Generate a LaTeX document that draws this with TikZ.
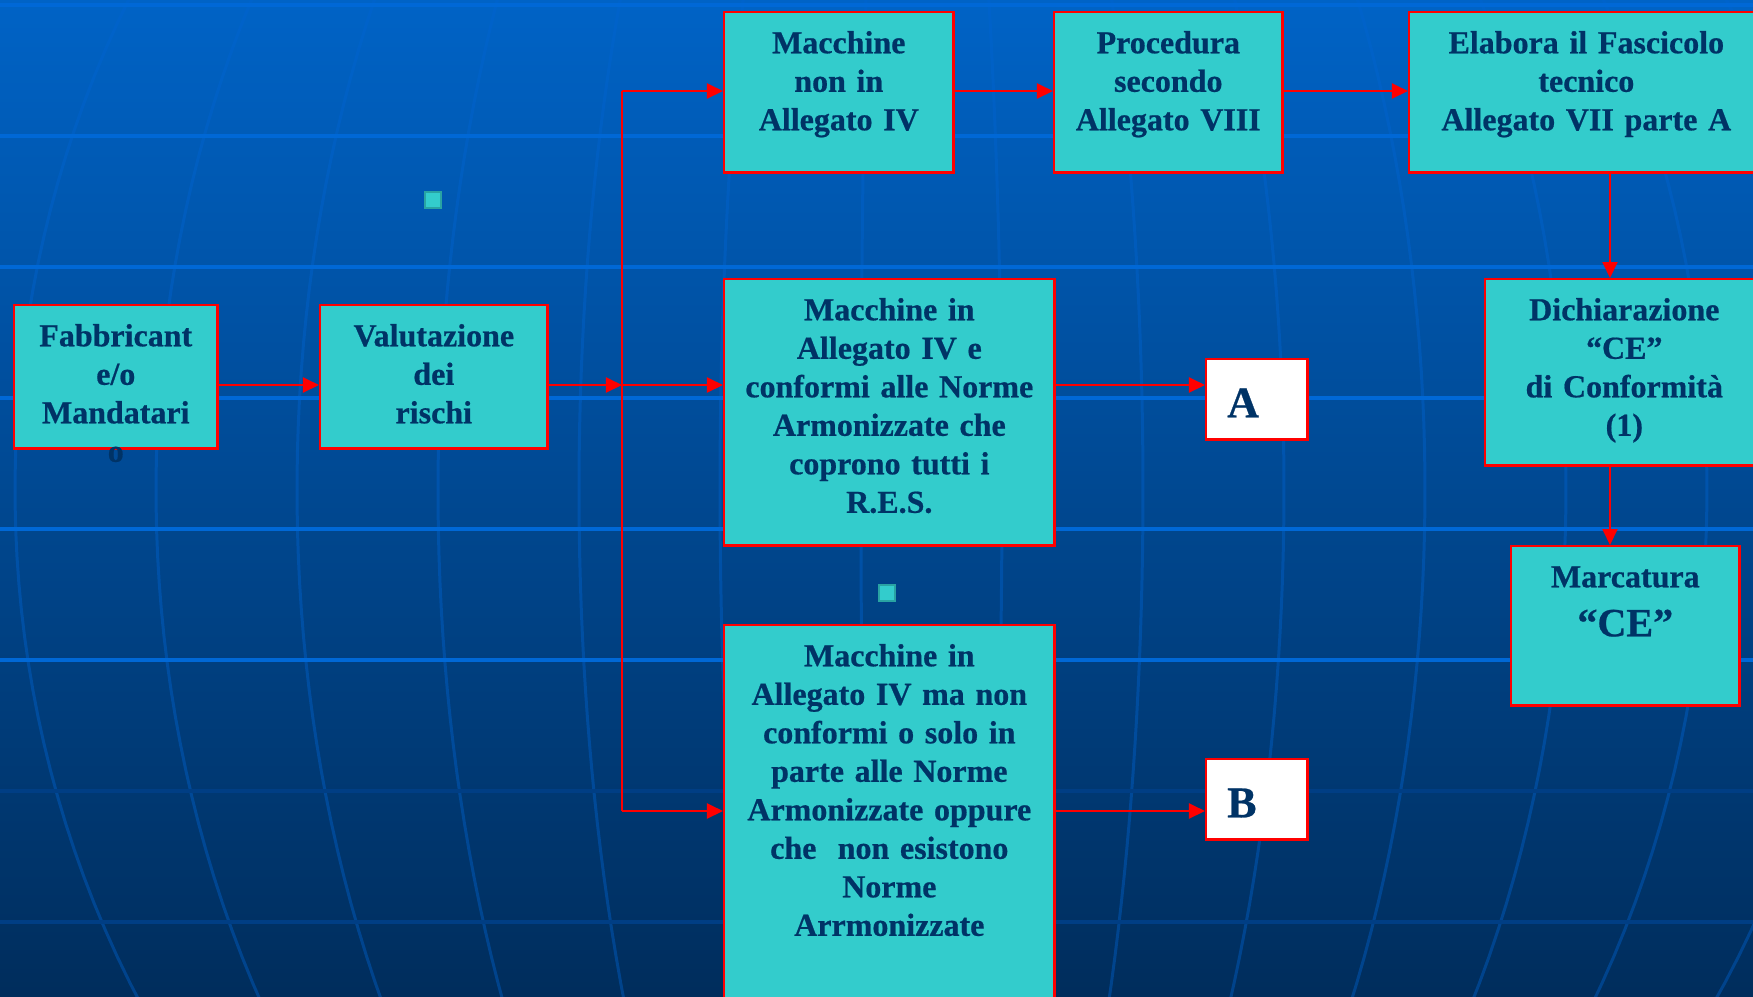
\documentclass[tikz,border=0pt]{standalone}
\usepackage{fontspec}
\setmainfont{Liberation Serif}[BoldFeatures={FakeBold=0.6}]
\usepackage{tikz}
\usetikzlibrary{arrows.meta}

\definecolor{bgtop}{RGB}{0,99,198}
\definecolor{bgbot}{RGB}{0,45,92}
\definecolor{gridlight}{RGB}{0,104,214}
\definecolor{griddark}{RGB}{0,62,132}
\definecolor{meridian}{RGB}{0,100,210}
\definecolor{boxfill}{RGB}{51,204,204}
\definecolor{boxtext}{RGB}{0,51,102}

\begin{document}
\begin{tikzpicture}[x=0.01cm, y=-0.01cm,
    box/.style={draw=red, line width=0.7pt, fill=boxfill, text=boxtext,
        font=\bfseries\fontsize{9.1}{10.95}\selectfont, align=center,
        inner xsep=0pt, inner ysep=0pt, anchor=north west, text height=0.41cm},
    letterbox/.style={draw=red, line width=0.7pt, fill=white, text=boxtext,
        font=\bfseries\fontsize{12.5}{14}\selectfont, align=left,
        inner xsep=0pt, inner ysep=0pt, anchor=north west,
        text width=1.01cm, text height=0.58cm, text depth=0.22cm},
    arr/.style={red, line width=0.55pt, -{Triangle[length=0.16cm, width=0.15cm]}}]
        \useasboundingbox (0,0) rectangle (1753,996);
        \clip (0,0) rectangle (1753,996);

        % 背景
        \shade[top color=bgtop, bottom color=bgbot] (0,0) rectangle (1753,996);
        \foreach \a in {-885,-744,...,948}
            \draw[meridian, opacity=0.4, line width=0.85pt]
                plot[domain=-520:520, samples=40] ({900+\a*sqrt(1-(\x/1000)^2)}, {490+\x});
        \foreach \y in {5,136,...,660}
            \draw[gridlight, line width=1pt] (0,\y) -- (1753,\y);
        \foreach \y in {791,922}
            \draw[griddark, line width=1pt] (0,\y) -- (1753,\y);
        \filldraw[fill=boxfill, draw=boxfill!80!black, line width=0.3pt] (425,192) rectangle (441,208);
        \filldraw[fill=boxfill, draw=boxfill!80!black, line width=0.3pt] (879,585) rectangle (895,601);

        % 方框
        \node[box, text width=2.03cm, text depth=1.02cm] (fab) at (13,304) {Fabbricant\\e/o\\Mandatari\\o};
        \node[box, text width=2.27cm, text depth=1.02cm] (val) at (319,304) {Valutazione\\dei\\rischi};
        \node[box, text width=2.29cm, text depth=1.19cm] (nonin) at (723,11) {Macchine\\non in\\Allegato IV};
        \node[box, text width=2.28cm, text depth=1.19cm] (proc) at (1053,11) {Procedura\\secondo\\Allegato VIII};
        \node[box, text width=3.54cm, text depth=1.19cm] (elab) at (1408,11) {Elabora il Fascicolo\\tecnico\\Allegato VII parte A};
        \node[box, text width=3.30cm, text depth=2.25cm] (conf) at (723,278)
            {Macchine in\\Allegato IV e\\conformi alle Norme\\Armonizzate che\\coprono tutti i\\R.E.S.};
        \node[box, text width=3.30cm, text depth=3.45cm] (nonconf) at (723,624)
            {Macchine in\\Allegato IV ma non\\conformi o solo in\\parte alle Norme\\Armonizzate oppure\\che\ \ non esistono\\Norme\\Arrmonizzate};
        \node[box, text width=2.78cm, text depth=1.45cm] (dich) at (1484,278) {Dichiarazione\\“CE”\\di Conformità\\(1)};
        \node[box, text width=2.28cm, text depth=1.18cm] (marc) at (1510,545)
            {Marcatura\\[0.105cm]{\fontsize{11.4}{10.95}\selectfont “CE”}};
        \node[letterbox] (A) at (1205,358) {\hspace*{0.21cm}A};
        \node[letterbox] (B) at (1205,758) {\hspace*{0.21cm}B};

        % 箭头
        \coordinate (split) at (622,385);
        \coordinate (topturn) at (622,91);
        \coordinate (botturn) at (622,811);
        \coordinate (dx) at (1610,0);
        \draw[arr] (fab.east |- split) -- (val.west |- split);
        \draw[arr] (val.east |- split) -- (split);
        \draw[arr] (split) -- (conf.west |- split);
        \draw[red, line width=0.55pt] (topturn) -- (botturn);
        \draw[arr] (topturn) -- (nonin.west |- topturn);
        \draw[arr] (botturn) -- (nonconf.west |- botturn);
        \draw[arr] (nonin.east |- topturn) -- (proc.west |- topturn);
        \draw[arr] (proc.east |- topturn) -- (elab.west |- topturn);
        \draw[arr] (conf.east |- split) -- (A.west |- split);
        \draw[arr] (nonconf.east |- botturn) -- (B.west |- botturn);
        \draw[arr] (elab.south -| dx) -- (dich.north -| dx);
        \draw[arr] (dich.south -| dx) -- (marc.north -| dx);
\end{tikzpicture}
\end{document}
